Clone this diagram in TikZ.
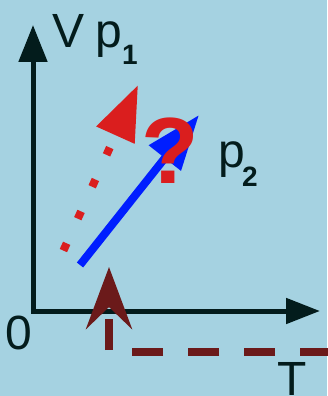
\documentclass[tikz,border=0pt]{standalone}
\usepackage{fontspec}
\setmainfont{Liberation Sans}
\usetikzlibrary{arrows.meta}
\definecolor{bgblue}{RGB}{165,210,225}
\definecolor{axisdark}{RGB}{3,28,28}
\definecolor{arrowred}{RGB}{218,30,30}
\definecolor{arrowblue}{RGB}{0,30,255}
\definecolor{maroon}{RGB}{107,26,26}

\begin{document}
\begin{tikzpicture}[x=1pt, y=-1pt,
  axis/.style={line width=5pt, draw=axisdark, line join=miter, {Triangle[length=37pt,width=28pt]}-{Triangle[length=34pt,width=25pt]}},
  redarr/.style={line width=8pt, draw=arrowred, dash pattern=on 8pt off 27pt, -{Triangle[length=55pt,width=40pt]}},
  bluearr/.style={line width=8pt, draw=arrowblue, -{Triangle[length=55pt,width=39pt]}},
  maroonarr/.style={line width=7.5pt, draw=maroon, line join=miter, dash pattern=on 31pt off 25pt, -{Stealth[length=62pt,width=46pt,inset=22pt]}},
  lbl/.style={inner sep=0pt, anchor=base west, text=axisdark, font=\fontsize{48}{50}\selectfont},
  sub/.style={inner sep=0pt, anchor=base west, text=axisdark, font=\fontsize{28}{30}\selectfont\bfseries},
  quest/.style={inner sep=0pt, anchor=base west, text=arrowred, font=\fontsize{94}{94}\selectfont\bfseries}
]
  \fill[bgblue] (0,0) rectangle (327,396);
  \useasboundingbox (0,0) rectangle (327,396);

  \coordinate (origin) at (33,311);
  \coordinate (vtip) at (33,25);
  \coordinate (ttip) at (320,311);
  \coordinate (redstart) at (63.4,250.6);
  \coordinate (redtip) at (138,85);
  \coordinate (bluestart) at (80,265);
  \coordinate (bluetip) at (199,115);
  \coordinate (maroonstart) at (331,352);
  \coordinate (maroonbend) at (109,352);
  \coordinate (maroontip) at (109,267);

  \draw[axis] (vtip) -- (origin) -- (ttip);
  \draw[redarr] (redstart) -- (redtip);
  \draw[bluearr] (bluestart) -- (bluetip);
  \draw[maroonarr] (maroonstart) -- (maroonbend) -- (maroontip);

  \node[lbl] (vlabel) at (52,48) {V};
  \node[lbl] (ponelabel) at (95,48) {p};
  \node[sub] (onesub) at (122,65) {1};
  \node[lbl] (ptwolabel) at (218,167) {p};
  \node[sub] (twosub) at (242,186) {2};
  \node[lbl] (zerolabel) at (5,349) {0};
  \node[lbl] (tlabel) at (277,395) {T};
  \node[quest] (qmark) at (141,183) {?};
\end{tikzpicture}
\end{document}
